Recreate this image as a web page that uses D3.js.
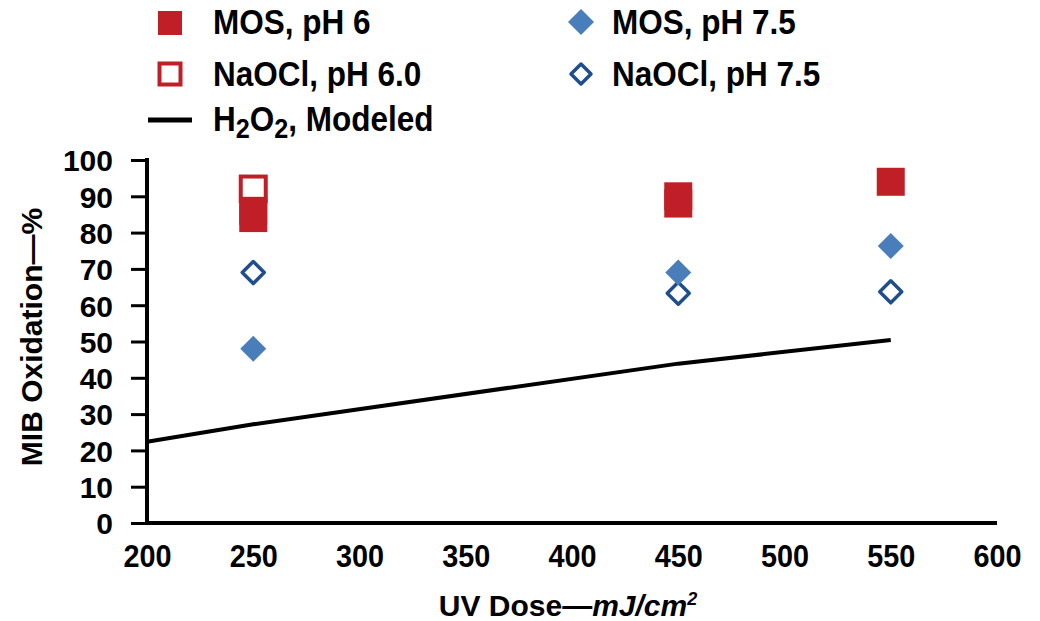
<!DOCTYPE html>
<html><head><meta charset="utf-8">
<script src="https://cdn.jsdelivr.net/npm/d3@7"></script>
<style>
body{margin:0;background:#fff;}
text{font-family:"Liberation Sans",Arial,sans-serif;font-weight:bold;fill:#000;}
</style></head>
<body><svg id="c" width="1040" height="621"></svg>
<script>
const xTicks=[200,250,300,350,400,450,500,550,600];
const yTicks=[0,10,20,30,40,50,60,70,80,90,100];
const mosPH6=[{x:250,y:84},{x:250,y:86},{x:450,y:88},{x:450,y:90},{x:550,y:94}];
const naoclPH6=[{x:250,y:92}];
const mosPH75=[{x:250,y:48},{x:450,y:69},{x:550,y:76.3}];
const naoclPH75=[{x:250,y:69},{x:450,y:63.3},{x:550,y:63.7}];
const h2o2=[{x:200,y:22.4},{x:250,y:27.2},{x:450,y:43.9},{x:550,y:50.4}];

const svg=d3.select("#c");
const x=d3.scaleLinear().domain([200,600]).range([147,997]);
const y=d3.scaleLinear().domain([0,100]).range([523,160]);

// y axis
const ya=svg.append("g").attr("transform","translate(147,0)")
  .call(d3.axisLeft(y).tickValues(yTicks).tickSize(16).tickPadding(18).tickFormat(d3.format("d")));
ya.select(".domain").remove();
ya.selectAll(".tick line").attr("stroke","#000").attr("stroke-width",3);
ya.selectAll(".tick text").style("font-size","30px").attr("dy","0.36em");
svg.append("line").attr("x1",147).attr("x2",147).attr("y1",y(100)-2).attr("y2",y(0)+2)
  .attr("stroke","#000").attr("stroke-width",4);

// x axis
const xa=svg.append("g").attr("transform","translate(0,523)")
  .call(d3.axisBottom(x).tickValues(xTicks).tickSize(0).tickPadding(21).tickFormat(d3.format("d")));
xa.select(".domain").remove();
xa.selectAll(".tick text").style("font-size","32px").attr("dy","0.71em")
  .attr("transform","scale(0.9,1)");
svg.append("line").attr("x1",145).attr("x2",x(600)).attr("y1",y(0)).attr("y2",y(0))
  .attr("stroke","#000").attr("stroke-width",4);

// axis titles
const xt=svg.append("text").attr("x",568).attr("y",616).attr("text-anchor","middle").style("font-size","30px");
xt.append("tspan").text("UV Dose\u2014");
xt.append("tspan").style("font-style","italic").text("mJ/cm");
xt.append("tspan").style("font-style","italic").style("font-size","18px").attr("dy","-11").text("2");
svg.append("text").attr("transform","translate(42,337) rotate(-90)").attr("text-anchor","middle")
  .style("font-size","30px").text("MIB Oxidation\u2014%");

// line
svg.append("path").datum(h2o2)
  .attr("d",d3.line().x(d=>x(d.x)).y(d=>y(d.y)))
  .attr("fill","none").attr("stroke","#000").attr("stroke-width",4);

const red="#C01F27", blue="#4A7EBB", dblue="#1F4E8C";
const sq=28, dm=13;
function square(g,data,filled){
  g.selectAll(null).data(data).enter().append("rect")
   .attr("x",d=>x(d.x)-sq/2+(filled?0:1.5)).attr("y",d=>y(d.y)-sq/2+(filled?0:1.5))
   .attr("width",filled?sq:sq-3).attr("height",filled?sq:sq-3)
   .attr("fill",filled?red:"#fff").attr("stroke",red).attr("stroke-width",filled?0:4);
}
function diamond(g,data,filled){
  g.selectAll(null).data(data).enter().append("path")
   .attr("d",d=>{const cx=x(d.x),cy=y(d.y),r=filled?dm:dm-2;return `M${cx},${cy-r}L${cx+r},${cy}L${cx},${cy+r}L${cx-r},${cy}Z`;})
   .attr("fill",filled?blue:"#fff").attr("stroke",filled?"none":dblue).attr("stroke-width",3.5)
   .attr("stroke-linejoin","round");
}
const pts=svg.append("g");
diamond(pts,naoclPH75,false);
diamond(pts,mosPH75,true);
square(pts,naoclPH6,false);
square(pts,mosPH6,true);

// legend
const L=svg.append("g");
function legSq(cx,cy,filled){
  const s=24;
  L.append("rect").attr("x",cx-s/2+(filled?0:1.5)).attr("y",cy-s/2+(filled?0:1.5))
   .attr("width",filled?s:s-3).attr("height",filled?s:s-3)
   .attr("fill",filled?red:"#fff").attr("stroke",red).attr("stroke-width",filled?0:4);
}
function legDm(cx,cy,filled){
  const r=filled?13:10;
  L.append("path").attr("d",`M${cx},${cy-r}L${cx+r},${cy}L${cx},${cy+r}L${cx-r},${cy}Z`)
   .attr("fill",filled?blue:"#fff").attr("stroke",filled?"none":dblue).attr("stroke-width",3.5).attr("stroke-linejoin","round");
}
legSq(170,23,true);
legSq(170,74,false);
legDm(581,22,true);
legDm(581,74,false);
L.append("line").attr("x1",148).attr("x2",192).attr("y1",120).attr("y2",120).attr("stroke","#000").attr("stroke-width",5);
function lt(tx,ty){return L.append("text").attr("transform",`translate(${tx},${ty}) scale(0.9,1)`).style("font-size","35px");}
lt(213,34).text("MOS, pH 6");
lt(213,86).text("NaOCl, pH 6.0");
lt(612,34).text("MOS, pH 7.5");
lt(612,86).text("NaOCl, pH 7.5");
const h=lt(213,131);
h.append("tspan").text("H");
h.append("tspan").attr("dy",7).style("font-size","28px").text("2");
h.append("tspan").attr("dy",-7).text("O");
h.append("tspan").attr("dy",7).style("font-size","28px").text("2");
h.append("tspan").attr("dy",-7).text(", Modeled");
</script></body></html>
